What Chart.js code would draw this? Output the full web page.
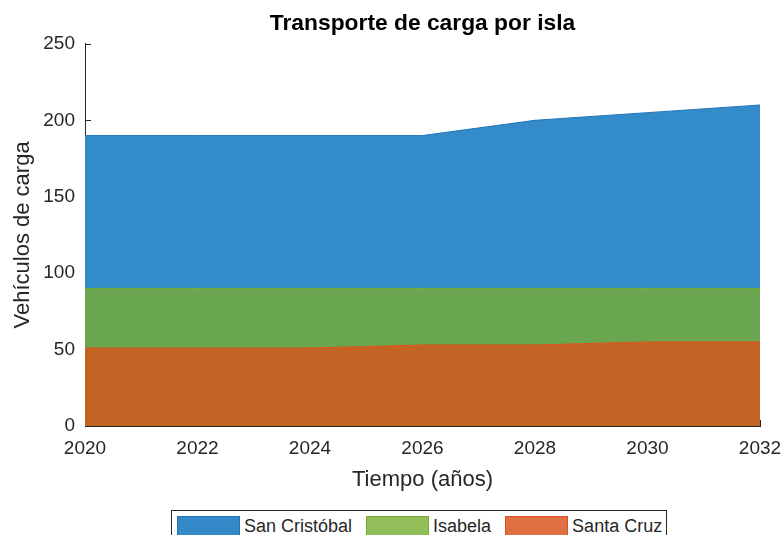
<!DOCTYPE html>
<html lang="es">
<head>
<meta charset="utf-8">
<title>Transporte de carga por isla</title>
<script src="https://cdn.jsdelivr.net/npm/chart.js@4.4.1/dist/chart.umd.min.js"></script>
<style>
    html, body { margin: 0; padding: 0; background: #fff; overflow: hidden; }
    #wrap { position: relative; width: 784px; height: 535px; }
    #legend {
        position: absolute;
        top: 510px;
        display: flex;
        align-items: flex-start;
        padding: 5px 4px 0 5px;
        height: 30px;
        box-sizing: border-box;
        border: 1px solid #2b2b2b;
        background: #fff;
        font-family: "Liberation Sans", Arial, sans-serif;
        font-size: 18px;
        color: #262626;
        white-space: nowrap;
    }
    #legend .item { display: flex; align-items: flex-start; margin-right: 14px; }
    #legend .item:last-child { margin-right: 0; }
    #legend .swatch { width: 63px; height: 20px; box-sizing: border-box; margin-right: 4px; }
    #legend .label { line-height: 20px; }
</style>
</head>
<body>
<div id="wrap">
    <canvas id="cargaChart" width="784" height="535"></canvas>
    <div id="legend"></div>
</div>
<script>
// Años del eje X
const years = [2020, 2022, 2024, 2026, 2028, 2030, 2032];

// Vehículos de carga por isla (áreas apiladas)
const santaCruz    = [51, 51, 51, 53, 53, 55, 55];
const isabela      = [39, 39, 39, 37, 37, 35, 35];
const sanCristobal = [100, 100, 100, 100, 110, 115, 120];

const yTicks = [0, 50, 100, 150, 200, 250];

const font = '"Liberation Sans", Arial, Helvetica, sans-serif';
const textColor = '#262626';

// Estilos de cada serie: relleno del área, borde y colores de la leyenda
const series = [
    { label: 'Santa Cruz',    data: santaCruz,    fill: '#c46424', edge: '#d95319', key: '#e07044', keyEdge: '#d95319' },
    { label: 'Isabela',       data: isabela,      fill: '#6aa64f', edge: '#77ac30', key: '#92be59', keyEdge: '#77ac30' },
    { label: 'San Cristóbal', data: sanCristobal, fill: '#348bc9', edge: '#2376b8', key: '#3589c9', keyEdge: '#2b6eae' },
];

// Marcas de graduación hacia dentro, bajo las áreas
const inwardTicks = {
    id: 'inwardTicks',
    beforeDatasetsDraw(chart) {
        const { ctx, chartArea, scales } = chart;
        ctx.save();
        ctx.strokeStyle = textColor;
        ctx.lineWidth = 1;
        ctx.beginPath();
        yTicks.forEach(v => {
            const y = Math.round(scales.y.getPixelForValue(v)) + 0.5;
            ctx.moveTo(chartArea.left, y);
            ctx.lineTo(chartArea.left + 6, y);
        });
        years.forEach(v => {
            const x = Math.round(scales.x.getPixelForValue(v)) + 0.5;
            ctx.moveTo(x, chartArea.bottom);
            ctx.lineTo(x, chartArea.bottom - 6);
        });
        ctx.stroke();
        ctx.restore();
    }
};

const ctx = document.getElementById('cargaChart').getContext('2d');

const cargaChart = new Chart(ctx, {
    type: 'line',
    data: {
        datasets: series.map((s, i) => ({
            label: s.label,
            data: years.map((yr, j) => ({ x: yr, y: s.data[j] })),
            backgroundColor: s.fill,
            borderColor: s.edge,
            borderWidth: 1,
            pointRadius: 0,
            tension: 0,
            fill: i === 0 ? 'origin' : '-1',
        }))
    },
    options: {
        responsive: false,
        animation: false,
        layout: { padding: { left: 0, right: 24, top: 0, bottom: 0 } },
        plugins: {
            legend: { display: false },
            tooltip: { enabled: false },
            title: {
                display: true,
                text: 'Transporte de carga por isla',
                fullSize: false,
                color: '#000',
                font: { family: font, size: 22.8, weight: 'bold' },
                padding: { top: 10, bottom: 6.5 },
            },
        },
        scales: {
            x: {
                type: 'linear',
                min: 2020,
                max: 2032,
                grid: { display: true, drawOnChartArea: false, drawTicks: false },
                border: { display: true, color: textColor },
                ticks: {
                    stepSize: 2,
                    padding: 11,
                    color: textColor,
                    font: { family: font, size: 19 },
                    maxRotation: 0,
                    callback: v => String(v),
                },
                title: {
                    display: true,
                    text: 'Tiempo (años)',
                    color: textColor,
                    font: { family: font, size: 22 },
                    padding: { top: 0, bottom: 42 },
                },
                afterFit(scale) {
                    scale.height = 109;
                    scale.paddingLeft = 0;
                    scale.paddingRight = 0;
                },
            },
            y: {
                stacked: true,
                min: 0,
                max: 250,
                grid: { display: true, drawOnChartArea: false, drawTicks: false },
                border: { display: true, color: textColor },
                ticks: {
                    stepSize: 50,
                    padding: 10,
                    color: textColor,
                    font: { family: font, size: 19 },
                },
                title: {
                    display: true,
                    text: 'Vehículos de carga',
                    color: textColor,
                    font: { family: font, size: 22 },
                    padding: { top: 10, bottom: 0 },
                },
                afterFit(scale) {
                    scale.width = 85;
                    scale.paddingTop = 0;
                    scale.paddingBottom = 0;
                },
            },
        },
    },
    plugins: [inwardTicks],
});

// Leyenda en HTML, en orden inverso al apilado, bajo el eje X
function buildLegend() {
    const legend = document.getElementById('legend');
    legend.innerHTML = '';
    series.slice().reverse().forEach(s => {
        const item = document.createElement('div');
        item.className = 'item';
        item.innerHTML = `
            <span class="swatch" style="background:${s.key}; border:1px solid ${s.keyEdge};"></span>
            <span class="label">${s.label}</span>
        `;
        legend.appendChild(item);
    });
    const area = cargaChart.chartArea;
    const center = (area.left + area.right) / 2 - 4;
    legend.style.left = Math.round(center - legend.offsetWidth / 2) + 'px';
}

buildLegend();
</script>
</body>
</html>
